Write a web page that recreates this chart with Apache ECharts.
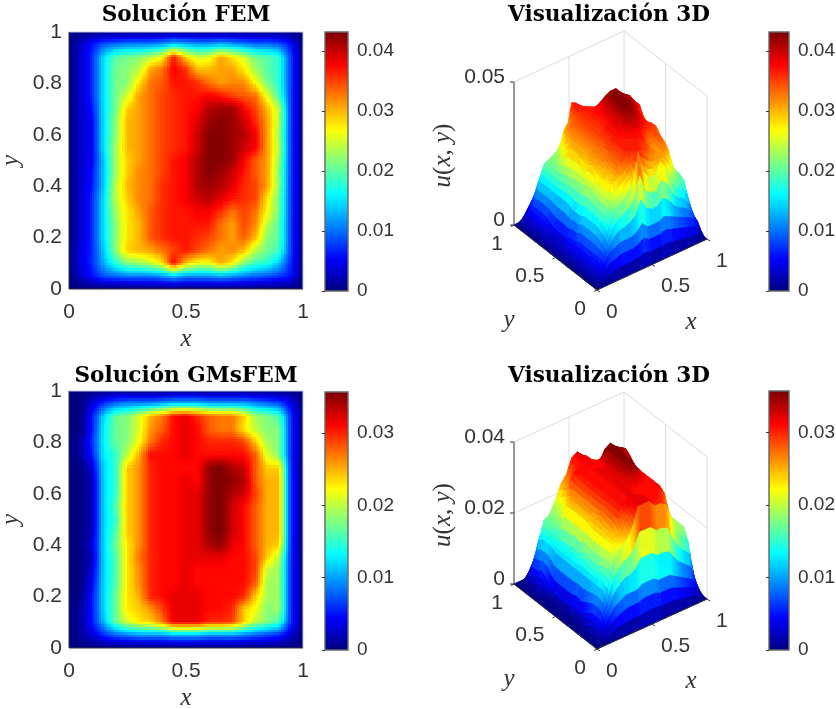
<!DOCTYPE html>
<html><head><meta charset="utf-8">
<style>html,body{margin:0;padding:0;background:#fff}#c{width:836px;height:709px}</style>
<script src="https://cdn.jsdelivr.net/npm/echarts@6/dist/echarts.min.js"></script>
</head><body><div id="c"></div>
<script>
// node coordinates of the solution grid (x columns, y rows listed from y=1 down to y=0)
const nodes = [0,.05,.1,.15,.2,.25,.3,.35,.4,.45,.5,.55,.6,.65,.7,.75,.8,.85,.9,.95,1];
const rowsY = [1,.95,.9,.85,.8,.75,.7,.65,.6,.55,.5,.45,.4,.35,.3,.25,.2,.15,.1,.05,0];
// values ×1e-3
const femValues = [
[0,0,0,0,0,0,0,0,0,0,0,0,0,0,0,0,0,0,0,0,0],
[0,3,6,9,10,11,11,11,12,14,13,12,12,13,12,11,10,10,9,6,0],
[0,3,7,15,20,21,22,24,27,37,29,25,26,31,28,25,21,20,18,8,0],
[0,3,7,15,21,22,24,31,33,38,36,30,30,31,31,28,23,20,18,8,0],
[0,3,7,15,21,22,28,33,34,37,37,36,33,31,32,32,27,21,18,8,0],
[0,3,7,15,21,25,31,33,35,36,37,37,38,37,35,34,33,26,19,8,0],
[0,3,6,15,21,29,31,33,35,36,37,38,41,42,42,38,35,30,24,8,0],
[0,3,5,15,22,30,31,33,35,36,37,39,42,43,42,40,36,31,24,8,0],
[0,3,5,15,22,30,31,33,35,36,37,40,43,43,42,41,38,31,23,8,0],
[0,3,5,15,23,30,31,33,35,36,37,40,43,43,42,40,38,31,24,8,0],
[0,3,5,14,23,29,31,33,35,37,38,41,43,43,42,38,34,31,23,8,0],
[0,3,6,14,23,29,32,33,35,37,38,41,43,42,40,37,34,31,22,8,0],
[0,3,6,14,24,30,32,33,36,37,38,41,42,41,39,36,35,31,22,8,0],
[0,3,7,15,24,29,32,33,36,37,38,40,41,39,37,36,35,28,21,8,0],
[0,3,7,15,23,28,31,34,36,37,37,38,38,36,33,35,33,27,21,8,0],
[0,3,7,15,22,28,30,34,36,37,37,37,37,33,31,35,32,24,20,8,0],
[0,3,7,15,22,28,30,34,36,37,37,36,35,33,31,34,30,22,20,8,0],
[0,4,7,14,22,29,30,31,33,35,37,35,33,31,32,30,24,21,19,8,0],
[0,4,7,13,18,22,23,25,28,38,30,27,27,31,28,22,19,18,14,7,0],
[0,3,6,9,10,11,11,11,12,14,12,12,12,13,12,11,10,9,8,6,0],
[0,0,0,0,0,0,0,0,0,0,0,0,0,0,0,0,0,0,0,0,0]];
const gmsValues = [
[0,0,0,0,0,0,0,0,0,0,0,0,0,0,0,0,0,0,0,0,0],
[0,0,3,6,8,9,9,9,10,11,11,11,10,10,10,10,9,8,7,4,0],
[0,0,5,12,17,18,21,25,27,31,32,30,28,27,27,24,19,18,16,6,0],
[0,0,5,13,17,18,21,26,28,31,32,31,28,27,27,23,20,18,18,6,0],
[0,1,6,13,17,18,22,27,30,31,32,31,30,30,30,29,24,19,18,6,0],
[0,1,5,13,15,20,25,31,31,31,32,31,31,31,31,31,28,21,18,6,0],
[0,0,3,12,15,24,26,30,31,31,31,31,35,36,34,33,28,24,24,6,0],
[0,0,2,12,15,24,26,30,31,31,32,31,35,36,35,34,28,25,25,6,0],
[0,0,2,12,15,24,26,30,31,31,32,32,35,36,34,33,29,25,25,6,0],
[0,0,2,12,16,24,26,30,31,31,32,32,35,36,33,31,28,25,25,6,0],
[0,0,2,12,15,24,26,30,31,31,32,32,35,36,33,31,28,25,25,6,0],
[0,0,2,12,16,24,26,30,31,31,32,32,35,36,33,31,28,25,25,6,0],
[0,0,3,12,17,23,26,30,31,31,32,32,34,35,32,31,28,25,24,6,0],
[0,0,2,12,16,23,27,30,31,31,32,32,32,32,31,31,29,24,20,6,0],
[0,0,3,12,16,23,26,30,31,31,32,31,31,31,31,31,29,20,19,6,0],
[0,0,4,12,16,23,26,30,31,31,32,31,31,31,31,31,28,19,19,6,0],
[0,0,5,12,17,23,25,30,31,32,32,32,31,31,31,30,24,19,19,6,0],
[0,1,5,12,17,23,24,26,29,32,32,32,31,31,30,24,22,18,19,6,0],
[0,1,5,11,17,21,23,24,27,32,32,32,30,30,29,24,20,18,16,6,0],
[0,1,3,6,8,9,10,10,10,11,11,11,10,10,10,9,8,7,6,3,0],
[0,0,0,0,0,0,0,0,0,0,0,0,0,0,0,0,0,0,0,0,0]];
const femColorMax = 43.2, gmsColorMax = 35.7;
const femZTicks = [0, 0.05], gmsZTicks = [0, 0.02, 0.04];
const xyTicks3D = [0, 0.5, 1];
const titles = ['Solución FEM','Visualización 3D','Solución GMsFEM','Visualización 3D'];

const TXT='#333333', SANS='"Liberation Sans",Arial,sans-serif', SERIF='"Liberation Serif",serif', FS=21, FSB=19, FSN=25;
const clamp=v=>Math.max(0,Math.min(1,v));
function jet(t){t=clamp(t);const c=k=>Math.round(255*clamp(1.5-Math.abs(4*t-k)));return `rgb(${c(3)},${c(2)},${c(1)})`;}
function bil(g,i,j,fx,fy){
  return (g[i][j]*(1-fx)+g[i][j+1]*fx)*(1-fy)+(g[i+1][j]*(1-fx)+g[i+1][j+1]*fx)*fy;
}
const chart=echarts.init(document.getElementById('c'),null,{renderer:'canvas'});
const cells=[];for(let i=0;i<20;i++)for(let j=0;j<20;j++)cells.push([i,j]);

function heatSeries(g,vmax,gi){
  const N=5;
  return {type:'custom',xAxisIndex:gi,yAxisIndex:gi,data:cells.concat([[-1,-1]]),clip:false,animation:false,progressive:0,z:2,
    renderItem(p,api){
      const i=api.value(0),j=api.value(1),ch=[];
      if(i<0){
        const A=api.coord([0,1]),B=api.coord([1,1]),C=api.coord([1,0]),D=api.coord([0,0]);
        return {type:'group',children:[
          {type:'line',shape:{x1:A[0],y1:A[1],x2:B[0],y2:B[1]},style:{stroke:'#c4c4ee',lineWidth:1}},
          {type:'line',shape:{x1:B[0],y1:B[1],x2:C[0],y2:C[1]},style:{stroke:'#c4c4ee',lineWidth:1}},
          {type:'line',shape:{x1:A[0],y1:A[1],x2:D[0],y2:D[1]},style:{stroke:'#333',lineWidth:1}},
          {type:'line',shape:{x1:D[0],y1:D[1],x2:C[0],y2:C[1]},style:{stroke:'#333',lineWidth:1}}]};
      }
      const x0=nodes[j],x1=nodes[j+1],y0=rowsY[i],y1=rowsY[i+1];
      for(let a=0;a<N;a++)for(let b=0;b<N;b++){
        const A=api.coord([x0+(x1-x0)*a/N,y0+(y1-y0)*b/N]),B=api.coord([x0+(x1-x0)*(a+1)/N,y0+(y1-y0)*(b+1)/N]);
        const xa=Math.floor(A[0]),ya=Math.floor(A[1]),xb=Math.ceil(B[0]),yb=Math.ceil(B[1]);
        ch.push({type:'rect',shape:{x:xa,y:ya,width:xb-xa,height:yb-ya},style:{fill:jet(bil(g,i,j,(a+.5)/N,(b+.5)/N)/vmax)},silent:true});
      }
      return {type:'group',children:ch};
    }};
}
function barSeries(vmax,gi){
  const levels=[];for(let k=0;k<256;k++)levels.push(k);
  return {type:'custom',xAxisIndex:gi,yAxisIndex:gi,data:levels.concat([-1]),clip:false,animation:false,progressive:0,z:2,
    renderItem(p,api){
      const k=api.value(0),M=vmax/1000;
      if(k<0){const A=api.coord([0,M]),B=api.coord([1,0]);
        return {type:'rect',shape:{x:A[0],y:A[1],width:B[0]-A[0],height:B[1]-A[1]},style:{fill:'none',stroke:'#666',lineWidth:1.4}};}
      const A=api.coord([0,M*(k+1)/256]),B=api.coord([1,M*k/256]);
      return {type:'rect',shape:{x:A[0],y:Math.floor(A[1]),width:B[0]-A[0],height:Math.ceil(B[1])-Math.floor(A[1])},style:{fill:jet((k+.5)/256)}};
    }};
}
function surfaceSeries(g,vmax,zMax,zTicks,gi,xv,yv,H){
  const N=3,LV=64,W='#dcdcdc',K='#333';
  const P=(api,x,y,z)=>api.coord([xv[0]*x+yv[0]*y, xv[1]*x+yv[1]*y+H*z/zMax]);
  const items=[];
  const ln=(a,b,c,d,e,f,col)=>items.push({k:'line',u:[a,b,c,d,e,f,col]});
  ln(.5,1,0,.5,1,zMax,W);ln(1,1,0,1,1,zMax,W);ln(1,.5,0,1,.5,zMax,W);ln(1,0,0,1,0,zMax,W);
  zTicks.forEach(z=>{ln(0,1,z,1,1,z,W);ln(1,1,z,1,0,z,W);});
  ln(0,1,0,0,1,zMax,K);
  // back-to-front: rows from y=1 to y=0, columns from x=1 to x=0
  for(let i=0;i<20;i++)for(let j=19;j>=0;j--)items.push({k:'face',i,j});
  ln(0,0,0,1,0,0,K);ln(0,0,0,0,1,0,K);
  zTicks.forEach(z=>items.push({k:'tick',a:[0,1,z],d:[-4,0]},{k:'text',a:[0,1,z],o:[-9,-4.5],t:String(z),al:'right'}));
  xyTicks3D.forEach(v=>{
    items.push({k:'tick',a:[v,0,0],d:[3,2]},{k:'text',a:[v,0,0],o:[9,22],t:String(v),al:'left'});
    items.push({k:'tick',a:[0,v,0],d:[-3,1.5]},{k:'text',a:[0,v,0],o:[-11,19],t:String(v),al:'right'});
  });
  items.push({k:'name',a:[0.5,0,0],o:[39,57.5],t:'x'},{k:'name',a:[0,0.5,0],o:[-46.5,62.5],t:'y'});
  items.push({k:'zname',a:[0,1,zMax/2],o:[-68,0]});
  return {type:'custom',xAxisIndex:gi,yAxisIndex:gi,data:items.map((_,n)=>[n]),clip:false,animation:false,progressive:0,z:2,
    renderItem(p,api){
      const it=items[api.value(0)];
      if(it.k==='line'){const u=it.u,A=P(api,u[0],u[1],u[2]),B=P(api,u[3],u[4],u[5]);
        return {type:'line',shape:{x1:A[0],y1:A[1],x2:B[0],y2:B[1]},style:{stroke:u[6],lineWidth:1}};}
      if(it.k==='face'){
        const {i,j}=it,ch=[];
        const x0=nodes[j],x1=nodes[j+1],y0=rowsY[i],y1=rowsY[i+1];
        const Q=(a,b)=>{const z=bil(g,i,j,a/N,b/N)/1000;return P(api,x0+(x1-x0)*a/N,y0+(y1-y0)*b/N,z);};
        for(let b=0;b<N;b++)for(let a=N-1;a>=0;a--){
          const v=bil(g,i,j,(a+.5)/N,(b+.5)/N)/vmax,q=(Math.floor(v*LV)+.5)/LV,c=jet(q);
          ch.push({type:'polygon',shape:{points:[Q(a,b),Q(a+1,b),Q(a+1,b+1),Q(a,b+1)]},style:{fill:c,stroke:c,lineWidth:.8}});
        }
        return {type:'group',children:ch};
      }
      const A=P(api,it.a[0],it.a[1],it.a[2]);
      if(it.k==='tick')return {type:'line',shape:{x1:A[0],y1:A[1],x2:A[0]+it.d[0],y2:A[1]+it.d[1]},style:{stroke:K,lineWidth:1}};
      if(it.k==='text')return {type:'text',x:A[0]+it.o[0],y:A[1]+it.o[1],style:{text:it.t,fontSize:FS,fontFamily:SANS,fill:TXT,align:it.al,verticalAlign:'middle'}};
      if(it.k==='name')return {type:'text',x:A[0]+it.o[0],y:A[1]+it.o[1],style:{text:it.t,fontSize:FSN,fontStyle:'italic',fontFamily:SERIF,fill:TXT,align:'center',verticalAlign:'middle'}};
      return {type:'text',x:A[0]+it.o[0]-3,y:A[1]+it.o[1]+2,rotation:Math.PI/2,style:{text:'{i|u}{n|(}{i|x}{n|, }{i|y}{n|)}',rich:{i:{fontSize:FSN,fontStyle:'italic',fontFamily:SERIF,fill:TXT},n:{fontSize:FSN,fontFamily:SERIF,fill:TXT}},align:'center',verticalAlign:'middle'}};
    }};
}
const lab={color:TXT,fontSize:FS,fontFamily:SANS};
const labB={color:TXT,fontSize:FSB,fontFamily:SANS};
const nameSt={color:TXT,fontSize:FSN,fontStyle:'italic',fontFamily:SERIF};
const grids=[],xA=[],yA=[],series=[];
function addHeat(top,g,vmax){
  const gi=grids.length;
  grids.push({left:69,top,width:234,height:257,outerBoundsMode:'none'});
  xA.push({gridIndex:gi,type:'value',min:0,max:1,interval:.5,name:'x',nameLocation:'middle',nameGap:38,nameTextStyle:nameSt,splitLine:{show:false},axisLine:{show:false},axisTick:{show:false},axisLabel:{...lab,margin:13}});
  yA.push({gridIndex:gi,type:'value',min:0,max:1,interval:.2,name:'y',nameLocation:'middle',nameGap:45,nameTextStyle:nameSt,splitLine:{show:false},axisLine:{show:false},axisTick:{show:false},axisLabel:{...lab,margin:7}});
  series.push(heatSeries(g,vmax,gi));
}
function addBar(left,width,top,height,vmax){
  const gi=grids.length;
  grids.push({left,top,width,height,outerBoundsMode:'none'});
  xA.push({gridIndex:gi,type:'value',min:0,max:1,show:false});
  yA.push({gridIndex:gi,type:'value',min:0,max:vmax/1000,interval:.01,position:'right',z:10,splitLine:{show:false},axisLine:{show:false},axisTick:{show:true,inside:true,length:3,lineStyle:{color:'#333'}},axisLabel:{...labB,margin:9,showMaxLabel:false}});
  series.push(barSeries(vmax,gi));
}
function addSurf(oy,g,vmax,zMax,zTicks,xv,yv,H){
  const gi=grids.length;
  const minU=yv[0],maxU=xv[0],maxV=xv[1]+yv[1]+H;
  grids.push({left:597+minU,top:oy-maxV,width:maxU-minU,height:maxV,outerBoundsMode:'none'});
  xA.push({gridIndex:gi,type:'value',min:minU,max:maxU,show:false});
  yA.push({gridIndex:gi,type:'value',min:0,max:maxV,show:false});
  series.push(surfaceSeries(g,vmax,zMax,zTicks,gi,xv,yv,H));
}
addHeat(32,femValues,femColorMax);
addBar(325,23,32,259,femColorMax);
addSurf(290,femValues,femColorMax,0.05,femZTicks,[110,51],[-83,65],143);
addBar(769,20,32,259,femColorMax);
addHeat(391,gmsValues,gmsColorMax);
addBar(325,23,392,258,gmsColorMax);
addSurf(649,gmsValues,gmsColorMax,0.04,gmsZTicks,[110,50],[-83,65],142);
addBar(769,20,391,259,gmsColorMax);
const tSt={fontFamily:'"DejaVu Serif",serif',fontWeight:'bold',fontSize:21.6,color:'#000'};
chart.setOption({animation:false,backgroundColor:'#fff',
  title:[[186,4],[609,4],[186,365],[609,365]].map((p,n)=>({text:titles[n],left:p[0],top:p[1],textAlign:'center',padding:0,textStyle:tSt})),
  grid:grids,xAxis:xA,yAxis:yA,series});
</script></body></html>
